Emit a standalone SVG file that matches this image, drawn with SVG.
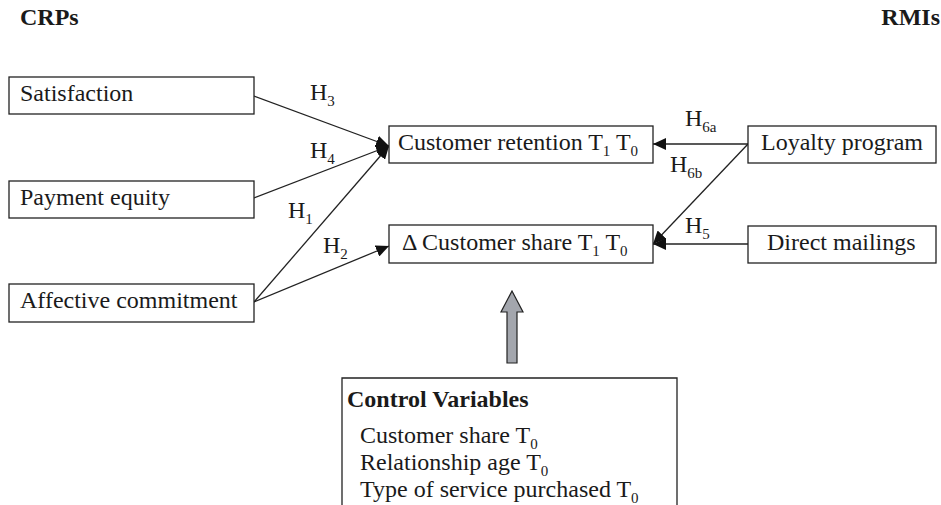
<svg xmlns="http://www.w3.org/2000/svg" width="941" height="505" viewBox="0 0 941 505">
<defs>
<style>
text{font-family:"Liberation Serif","Times New Roman",serif;font-size:24px;fill:#1a1a1a}
.b{font-weight:bold}
.s{font-size:15px}
.box{fill:#fff;stroke:#222;stroke-width:1.3}
.c{fill:none;stroke:#222;stroke-width:1.3}
</style>
<marker id="ah" markerUnits="userSpaceOnUse" markerWidth="14" markerHeight="12" refX="13" refY="6" orient="auto">
<path d="M0,0 L13,6 L0,12 Z" fill="#111"/>
</marker>
</defs>
<rect width="941" height="505" fill="#fff"/>
<text class="b" x="20" y="25">CRPs</text>
<text class="b" x="940" y="25" text-anchor="end">RMIs</text>

<g id="connectors">
<line class="c" x1="254" y1="96" x2="389" y2="146" marker-end="url(#ah)"/>
<line class="c" x1="254" y1="198" x2="389" y2="146" marker-end="url(#ah)"/>
<line class="c" x1="254" y1="302" x2="389" y2="146" marker-end="url(#ah)"/>
<line class="c" x1="254" y1="302" x2="389" y2="246" marker-end="url(#ah)"/>
<line class="c" x1="748" y1="144" x2="653" y2="144" marker-end="url(#ah)"/>
<line class="c" x1="748" y1="144" x2="653" y2="244" marker-end="url(#ah)"/>
<line class="c" x1="748" y1="244" x2="653" y2="244" marker-end="url(#ah)"/>
<path d="M512,291 L523,312 L517,312 L517,363 L507,363 L507,312 L501,312 Z" fill="#a3a6ad" stroke="#222" stroke-width="1.2"/>
<text x="310" y="100">H<tspan class="s" dy="6">3</tspan></text>
<text x="310" y="158">H<tspan class="s" dy="6">4</tspan></text>
<text x="288" y="218">H<tspan class="s" dy="6">1</tspan></text>
<text x="323" y="253">H<tspan class="s" dy="6">2</tspan></text>
<text x="685" y="126">H<tspan class="s" dy="6">6a</tspan></text>
<text x="670" y="172">H<tspan class="s" dy="6">6b</tspan></text>
<text x="685" y="233">H<tspan class="s" dy="6">5</tspan></text>
</g>

<g id="satisfaction">
<rect class="box" x="9" y="77" width="245" height="37"/>
<text x="20" y="101">Satisfaction</text>
</g>
<g id="payment-equity">
<rect class="box" x="9" y="181" width="245" height="37"/>
<text x="20" y="205">Payment equity</text>
</g>
<g id="affective-commitment">
<rect class="box" x="9" y="284" width="245" height="38"/>
<text x="20" y="308">Affective commitment</text>
</g>
<g id="customer-retention">
<rect class="box" x="389" y="126" width="264" height="37"/>
<text x="398" y="150">Customer retention T<tspan class="s" dy="6">1</tspan><tspan dy="-6"> T</tspan><tspan class="s" dy="6">0</tspan></text>
</g>
<g id="customer-share">
<rect class="box" x="389" y="225" width="264" height="38"/>
<text x="402" y="250">Δ Customer share T<tspan class="s" dy="6">1</tspan><tspan dy="-6"> T</tspan><tspan class="s" dy="6">0</tspan></text>
</g>
<g id="loyalty-program">
<rect class="box" x="748" y="126" width="188" height="37"/>
<text x="761" y="150">Loyalty program</text>
</g>
<g id="direct-mailings">
<rect class="box" x="748" y="226" width="188" height="37"/>
<text x="767" y="250">Direct mailings</text>
</g>
<g id="control-variables">
<path class="c" d="M342,510 L342,378 L677,378 L677,510"/>
<text class="b" x="347" y="407">Control Variables</text>
<text x="360" y="443">Customer share T<tspan class="s" dy="6">0</tspan></text>
<text x="360" y="470">Relationship age T<tspan class="s" dy="6">0</tspan></text>
<text x="360" y="497">Type of service purchased T<tspan class="s" dy="6">0</tspan></text>
</g>
</svg>
